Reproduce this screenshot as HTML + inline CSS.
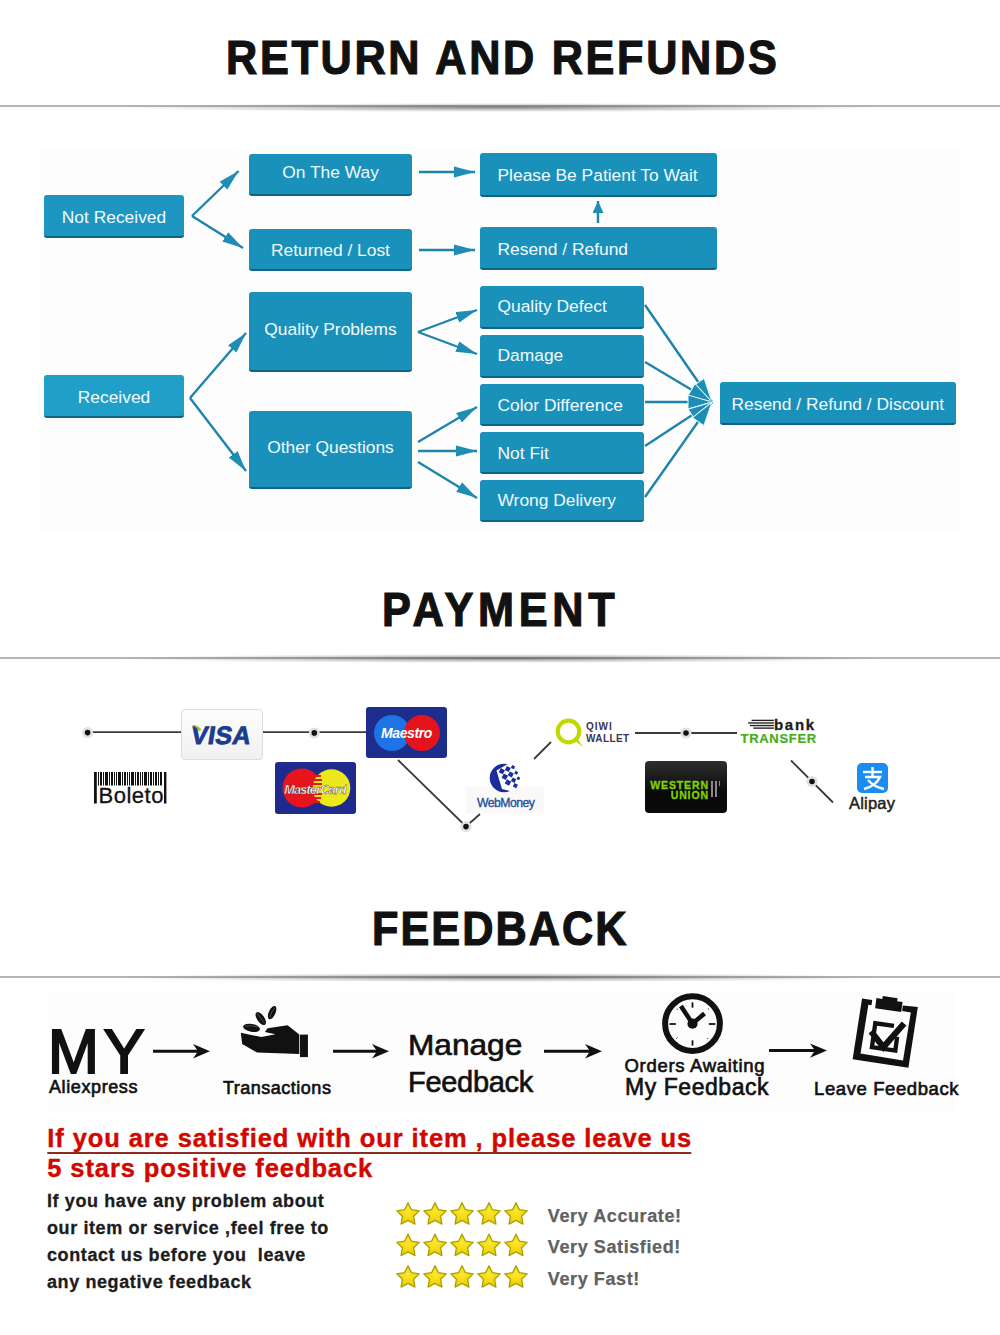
<!DOCTYPE html>
<html><head><meta charset="utf-8">
<style>
*{margin:0;padding:0;box-sizing:border-box}
html,body{width:1000px;height:1335px;background:#fff;overflow:hidden}
body{position:relative;font-family:"Liberation Sans",sans-serif}
.a{position:absolute}
.h{position:absolute;font-weight:bold;color:#111;font-size:46px;line-height:46px;white-space:nowrap}
.rule{position:absolute;left:0;width:1000px;height:2px;background:#b4b4b4}
.shadow{position:absolute;left:120px;width:760px;height:9px;background:radial-gradient(closest-side,rgba(70,70,70,.62),rgba(70,70,70,.25) 55%,rgba(70,70,70,0))}
.bx{position:absolute;background:#1a91bb;padding-top:3px;color:#f2fbff;font-size:17.4px;line-height:17px;border-radius:3px;border-bottom:2px solid #0f6482;white-space:nowrap;display:flex;align-items:center}
.c{justify-content:center}
.band{position:absolute;background:#fcfcfc}
</style></head><body>

<!-- RETURN AND REFUNDS -->
<div class="h" id="h1" style="left:226px;top:35px;font-size:48px;letter-spacing:3px;transform:scaleX(0.9);transform-origin:0 0;-webkit-text-stroke:1.2px #111">RETURN AND REFUNDS</div>
<div class="rule" style="top:105px"></div>
<div class="shadow" style="top:102.5px"></div>

<div class="band" style="left:40px;top:150px;width:920px;height:380px;background:#fdfdfd"></div>

<div class="bx c" style="left:44px;top:195px;width:140px;height:43px;background:#1d97c2">Not Received</div>
<div class="bx c" style="left:249px;top:153.5px;width:163px;height:42px;padding-top:0;padding-bottom:3px">On The Way</div>
<div class="bx c" style="left:249px;top:229px;width:163px;height:42px">Returned / Lost</div>
<div class="bx" style="left:480px;top:153px;width:237px;height:44px;padding-left:17.5px">Please Be Patient To Wait</div>
<div class="bx" style="left:480px;top:227px;width:237px;height:43px;padding-left:17.5px">Resend / Refund</div>

<div class="bx c" style="left:44px;top:375px;width:140px;height:43px;background:#20a0c8">Received</div>
<div class="bx c" style="left:249px;top:292px;width:163px;height:80px;padding-top:0;padding-bottom:4px">Quality Problems</div>
<div class="bx c" style="left:249px;top:411px;width:163px;height:78px;padding-top:0;padding-bottom:4px">Other Questions</div>
<div class="bx" style="left:480px;top:286px;width:164px;height:43px;padding-left:17.5px;padding-top:0">Quality Defect</div>
<div class="bx" style="left:480px;top:335px;width:164px;height:43px;padding-left:17.5px;padding-top:0;padding-bottom:1px">Damage</div>
<div class="bx" style="left:480px;top:384px;width:164px;height:42px;padding-left:17.5px;padding-top:2px">Color Difference</div>
<div class="bx" style="left:480px;top:432px;width:164px;height:42px;padding-left:17.5px;padding-top:2px">Not Fit</div>
<div class="bx" style="left:480px;top:480px;width:164px;height:42px;padding-left:17.5px;padding-top:1px">Wrong Delivery</div>
<div class="bx" style="left:720px;top:382px;width:236px;height:43px;padding-left:11.5px">Resend / Refund / Discount</div>

<svg class="a" style="left:0;top:0" width="1000" height="560" viewBox="0 0 1000 560">
<defs>
<marker id="ah" markerWidth="22" markerHeight="12" refX="21" refY="6" orient="auto" markerUnits="userSpaceOnUse">
<path d="M0,0.5 L21,6 L0,11.5 Z" fill="#1d8db5"/>
</marker>
<marker id="ah3" markerWidth="28" markerHeight="18" refX="25" refY="8" orient="auto" markerUnits="userSpaceOnUse">
<path d="M1,1 L25,8 L1,15 Z" fill="#1d8db5" stroke="#e8f8ff" stroke-width="1" stroke-linejoin="miter"/>
</marker>
<marker id="ah2" markerWidth="12" markerHeight="12" refX="12" refY="5.5" orient="auto" markerUnits="userSpaceOnUse">
<path d="M0,0 L12,5.5 L0,11 Z" fill="#1d8db5"/>
</marker>
</defs>
<g stroke="#1f84aa" stroke-width="2.4" fill="none" marker-end="url(#ah)">
<path d="M192,216 L238.6,171"/>
<path d="M192,216 L243,248"/>
<path d="M419,172 L475,172"/>
<path d="M419,250 L475,250"/>
<path d="M598,223 L598,201" marker-end="url(#ah2)"/>
<path d="M190,398 L246,333"/>
<path d="M190,398 L246,471"/>
<path d="M418,332 L477,310"/>
<path d="M418,332 L477,354"/>
<path d="M418,442 L477,407"/>
<path d="M418,451 L477,451"/>
<path d="M418,462 L477,498"/>
<path d="M645,305 L712,402" marker-end="url(#ah3)"/>
<path d="M645,362 L712,402" marker-end="url(#ah3)"/>
<path d="M645,402 L712,402" marker-end="url(#ah3)"/>
<path d="M645,446 L712,402" marker-end="url(#ah3)"/>
<path d="M645,497 L712,402" marker-end="url(#ah3)"/>
</g>
</svg>

<!-- PAYMENT -->
<div class="h" id="h2" style="left:382px;top:587px;font-size:48px;letter-spacing:5.3px;transform:scaleX(0.9);transform-origin:0 0;-webkit-text-stroke:1.2px #111">PAYMENT</div>
<div class="rule" style="top:657px"></div>
<div class="shadow" style="top:654px"></div>


<!-- payment lines -->
<svg class="a" style="left:0;top:680px" width="1000" height="170" viewBox="0 680 1000 170">
<g stroke="#3a3a3a" stroke-width="1.8" fill="none">
<path d="M88,732.2 L181,732.2"/>
<path d="M262,732.2 L366,732.2"/>
<path d="M398,760 L466,826.5 L480,814"/>
<path d="M534,759 L551,742"/>
<path d="M635,733 L737,733"/>
<path d="M791,760.5 L833,802.5"/>
</g>
<g>
<circle cx="87.6" cy="732.6" r="5.5" fill="#e0e0e0"/><circle cx="87.6" cy="732.6" r="2.8" fill="#111"/>
<circle cx="314.3" cy="732.9" r="5.5" fill="#e0e0e0"/><circle cx="314.3" cy="732.9" r="2.8" fill="#111"/>
<circle cx="466" cy="826.6" r="5.5" fill="#e0e0e0"/><circle cx="466" cy="826.6" r="2.8" fill="#111"/>
<circle cx="686" cy="733" r="5.5" fill="#e0e0e0"/><circle cx="686" cy="733" r="2.8" fill="#111"/>
<circle cx="812" cy="781.5" r="5.5" fill="#e0e0e0"/><circle cx="812" cy="781.5" r="2.8" fill="#111"/>
</g>
</svg>

<!-- VISA -->
<div class="a" style="left:181px;top:709px;width:82px;height:51px;border:1px solid #dcdcdc;border-radius:4px;background:linear-gradient(#fdfdfd,#f1f1f1)"></div>
<div class="a" id="visa" style="left:189px;top:719.5px;font-size:25px;line-height:30px;font-weight:bold;color:#1a3d8f;letter-spacing:0.4px;-webkit-text-stroke:0.9px #1a3d8f;transform:skewX(-9deg);transform-origin:0 100%">VISA</div>
<svg class="a" style="left:191px;top:724px" width="12" height="8" viewBox="0 0 12 8"><path d="M0.5,1.2 Q6,0 10.5,5.5 L8.3,7.2 Q5.5,2.5 0.5,1.2Z" fill="#9ccb1c"/></svg>

<!-- Boleto -->
<svg class="a" style="left:92px;top:771px" width="78" height="36" viewBox="0 0 78 36" preserveAspectRatio="none">
<g fill="#111">
<rect x="2" y="1" width="2.8" height="31.5"/><rect x="72" y="1" width="2.4" height="31.5"/>
<rect x="6" y="1" width="1" height="13.5"/><rect x="8" y="1" width="2" height="13.5"/><rect x="11" y="1" width="1" height="13.5"/><rect x="13" y="1" width="3" height="13.5"/><rect x="17" y="1" width="1" height="13.5"/><rect x="19" y="1" width="2" height="13.5"/><rect x="22" y="1" width="1" height="13.5"/><rect x="24" y="1" width="1" height="13.5"/><rect x="26" y="1" width="3" height="13.5"/><rect x="30" y="1" width="1" height="13.5"/><rect x="32" y="1" width="2" height="13.5"/><rect x="35" y="1" width="1" height="13.5"/><rect x="37" y="1" width="1" height="13.5"/><rect x="39" y="1" width="3" height="13.5"/><rect x="43" y="1" width="1" height="13.5"/><rect x="45" y="1" width="2" height="13.5"/><rect x="48" y="1" width="1" height="13.5"/><rect x="50" y="1" width="1" height="13.5"/><rect x="52" y="1" width="3" height="13.5"/><rect x="56" y="1" width="1" height="13.5"/><rect x="58" y="1" width="2" height="13.5"/><rect x="61" y="1" width="1" height="13.5"/><rect x="63" y="1" width="2" height="13.5"/><rect x="66" y="1" width="1" height="13.5"/><rect x="68" y="1" width="2" height="13.5"/>
</g>
</svg>
<div class="a" style="left:98.5px;top:784px;font-size:22px;line-height:24px;color:#111;letter-spacing:0.5px;-webkit-text-stroke:0.3px #111">Boleto</div>

<!-- MasterCard -->
<div class="a" style="left:275px;top:762px;width:81px;height:51.5px;border-radius:3px;background:#1f2a8f;overflow:hidden">
<svg width="81" height="52" viewBox="0 0 81 52">
<circle cx="27" cy="26" r="19.5" fill="#e8141c"/>
<circle cx="56.5" cy="26" r="18.8" fill="#ebe81c"/>
<g fill="#e8141c"><rect x="38" y="13" width="8" height="2"/><rect x="38" y="17" width="9" height="2"/><rect x="38" y="21" width="9" height="2"/><rect x="38" y="31" width="9" height="2"/><rect x="38" y="35" width="8" height="2"/><rect x="39" y="39" width="6" height="2"/></g>
<text x="40" y="31.5" text-anchor="middle" font-family="Liberation Sans" font-weight="bold" font-style="italic" font-size="12.8" fill="#fff" letter-spacing="-0.9" stroke="#333" stroke-width="0.35">MasterCard</text>
</svg></div>

<!-- Maestro -->
<div class="a" style="left:366px;top:707px;width:81px;height:51px;border-radius:3px;background:#1c2d8c;overflow:hidden">
<svg width="81" height="51" viewBox="0 0 81 51">
<circle cx="26" cy="26" r="18" fill="#1e74e4"/>
<circle cx="56" cy="26" r="18" fill="#e3141b"/>
<text x="40.5" y="31" text-anchor="middle" font-family="Liberation Sans" font-weight="bold" font-style="italic" font-size="14" fill="#fff" letter-spacing="-0.4">Maestro</text>
</svg></div>

<!-- WebMoney -->
<div class="a" style="left:466px;top:787px;width:78px;height:26px;background:#faf8f8"></div>
<svg class="a" style="left:488px;top:762px" width="36" height="32" viewBox="0 0 36 32">
<circle cx="16" cy="16" r="14.3" fill="#1b2d9e"/>
<path d="M8.5,8.5 L21.5,1 L34,15 L26,30 L14,27 Z" fill="#fff"/>
<g fill="#1b2d9e">
<rect x="-2.3" y="-2.3" width="4.6" height="4.6" transform="translate(13.8 9.2) rotate(28)"/>
<rect x="-2.2" y="-2.2" width="4.4" height="4.4" transform="translate(19.8 7) rotate(28)"/>
<rect x="-1.6" y="-1.6" width="3.2" height="3.2" transform="translate(25 5.2) rotate(28)"/>
<rect x="-2.4" y="-2.4" width="4.8" height="4.8" transform="translate(16.8 14.8) rotate(28)"/>
<rect x="-2.2" y="-2.2" width="4.4" height="4.4" transform="translate(22.8 12.4) rotate(28)"/>
<rect x="-1.5" y="-1.5" width="3" height="3" transform="translate(28.2 10.8) rotate(28)"/>
<rect x="-2.4" y="-2.4" width="4.8" height="4.8" transform="translate(20 20.6) rotate(28)"/>
<rect x="-2" y="-2" width="4" height="4" transform="translate(25.6 18.2) rotate(28)"/>
<rect x="-1.4" y="-1.4" width="2.8" height="2.8" transform="translate(30.4 16.4) rotate(28)"/>
<rect x="-1.9" y="-1.9" width="3.8" height="3.8" transform="translate(27.4 23.6) rotate(28)"/>
</g>
</svg>
<div class="a" style="left:477px;top:796px;font-size:12.2px;line-height:14px;color:#24509c;letter-spacing:-0.5px;-webkit-text-stroke:0.35px #24509c">WebMoney</div>

<!-- QIWI -->
<svg class="a" style="left:553px;top:717px" width="32" height="32" viewBox="0 0 32 32">
<circle cx="15.5" cy="14.5" r="10.8" fill="none" stroke="#c0d800" stroke-width="4.2"/>
<path d="M21,23 L30,30 L24,21Z" fill="#c0d800"/>
</svg>
<div class="a" style="left:586px;top:721px;font-size:10px;line-height:12px;font-weight:bold;color:#3a3458;letter-spacing:1px">QIWI<br><span style="letter-spacing:0.4px">WALLET</span></div>

<!-- bank transfer -->
<svg class="a" style="left:748px;top:718px" width="26" height="12" viewBox="0 0 30 14">
<g fill="#222"><rect x="4" y="2" width="26" height="1.6"/><rect x="0" y="5" width="30" height="1.6"/><rect x="2" y="8" width="28" height="1.6"/><rect x="6" y="11" width="24" height="1.6"/></g>
</svg>
<div class="a" style="left:774px;top:716.5px;font-size:15px;line-height:16px;font-weight:bold;color:#1a1a1a;letter-spacing:1.7px;-webkit-text-stroke:0.3px #1a1a1a">bank</div>
<div class="a" id="transfer" style="left:740.5px;top:732px;font-size:13px;line-height:14px;font-weight:bold;color:#4aae1c;letter-spacing:0.7px;-webkit-text-stroke:0.2px #3f9a18">TRANSFER</div>

<!-- Western Union -->
<div class="a" style="left:645px;top:761px;width:82px;height:52px;border-radius:4px;background:linear-gradient(#2e2e2e,#0a0a0a 60%)"></div>
<div class="a" style="left:650px;top:779.5px;width:59px;font-size:10.5px;line-height:10.2px;font-weight:bold;color:#80d200;text-align:right;letter-spacing:0.9px;margin-right:-0.9px;-webkit-text-stroke:0.3px #80d200">WESTERN<br>UNION</div>
<div class="a" style="left:711px;top:781px;width:1.5px;height:16px;background:#8a8a8a"></div>
<div class="a" style="left:715px;top:781px;width:1.5px;height:16px;background:#8a8a8a"></div>
<div class="a" style="left:719px;top:781px;width:1px;height:5px;background:#8a8a8a"></div>

<!-- Alipay -->
<div class="a" style="left:857px;top:763px;width:31px;height:30px;border-radius:5px;background:#1b8cf0">
<svg width="31" height="30" viewBox="0 0 31 30"><g fill="none" stroke="#fff" stroke-width="2.4"><path d="M6,9 L25,9"/><path d="M15.5,4 L15.5,14"/><path d="M8,14 L23,14 Q19,23 7,26"/><path d="M11,17 Q17,24 27,26"/></g></svg>
</div>
<div class="a" style="left:849px;top:794px;font-size:16.5px;line-height:19px;color:#222;letter-spacing:0.2px;-webkit-text-stroke:0.5px #222">Alipay</div>

<!-- FEEDBACK -->
<div class="h" id="h3" style="left:372px;top:906px;font-size:48px;letter-spacing:2.3px;transform:scaleX(0.9);transform-origin:0 0;-webkit-text-stroke:1.2px #111">FEEDBACK</div>
<div class="rule" style="top:976px"></div>
<div class="shadow" style="top:973px"></div>


<div class="band" style="left:48px;top:992px;width:908px;height:120px;background:#fdfdfd"></div>

<div class="a" id="my" style="-webkit-text-stroke:2.2px #111;left:48px;top:1020px;font-size:63px;line-height:63px;color:#111;letter-spacing:5px;transform:scaleX(0.97);transform-origin:0 0">MY</div>
<div class="a" id="ali" style="-webkit-text-stroke:0.65px #111;left:49px;top:1077px;font-size:18px;line-height:20px;color:#111;letter-spacing:0.6px">Aliexpress</div>

<svg class="a" style="left:0;top:1030px" width="1000" height="45" viewBox="0 1030 1000 45">
<g stroke="#111" stroke-width="3" fill="none">
<path d="M153,1051.2 L200,1051.2"/>
<path d="M333,1051.2 L380,1051.2"/>
<path d="M544,1051.2 L592,1051.2"/>
<path d="M769,1050.5 L818,1050.5"/>
</g>
<g fill="#111">
<path d="M193,1044 L210,1051.2 L193,1058.4 L198,1051.2Z"/>
<path d="M372,1044 L389,1051.2 L372,1058.4 L377,1051.2Z"/>
<path d="M585,1044 L602,1051.2 L585,1058.4 L590,1051.2Z"/>
<path d="M810,1043.5 L827,1050.5 L810,1057.7 L815,1050.5Z"/>
</g>
</svg>

<!-- hand -->
<svg class="a" style="left:230px;top:995px" width="90" height="70" viewBox="0 0 1000 778">
<g fill="#111">
<path d="M120,420 L350,468 L505,436 L388,412 L418,370 L640,335 L770,440 L770,655 L300,640 L135,545 Z"/>
<rect x="778" y="440" width="88" height="250"/>
<ellipse cx="240" cy="365" rx="95" ry="44" transform="rotate(10 240 365)"/>
<ellipse cx="342" cy="262" rx="84" ry="40" transform="rotate(55 342 262)"/>
<ellipse cx="468" cy="196" rx="80" ry="37" transform="rotate(-65 468 196)"/>
</g>
<g stroke="#666" stroke-width="8" fill="none">
<path d="M170,345 Q240,335 310,355"/>
<path d="M300,200 Q340,260 385,315"/>
<path d="M440,250 Q460,180 500,140"/>
</g>
</svg>
<div class="a" id="trans" style="-webkit-text-stroke:0.65px #111;left:223px;top:1078px;font-size:18px;line-height:20px;color:#111;letter-spacing:0.5px">Transactions</div>

<div class="a" id="manage" style="-webkit-text-stroke:0.65px #111;left:408px;top:1027px;font-size:29px;line-height:36.5px;color:#111;letter-spacing:-0.3px"><span style="display:inline-block;transform:scaleX(1.09);transform-origin:0 0;letter-spacing:0">Manage</span><br>Feedback</div>

<!-- clock -->
<svg class="a" style="left:655px;top:985px" width="75" height="75" viewBox="0 0 1000 1000">
<circle cx="500" cy="515" r="365" fill="none" stroke="#111" stroke-width="80"/>
<circle cx="500" cy="515" r="68" fill="#111"/>
<g stroke="#111" stroke-width="60" stroke-linecap="butt"><path d="M500,515 L345,280"/><path d="M500,515 L660,380"/></g>
<g stroke="#111" stroke-width="24"><path d="M500,232 L500,302"/><path d="M718,520 L805,520"/><path d="M500,738 L500,808"/><path d="M193,520 L278,520"/></g>
<g stroke="#111" stroke-width="12"><path d="M295,315 L305,330"/><path d="M705,325 L720,315"/><path d="M285,715 L300,700"/><path d="M695,705 L710,720"/></g>
</svg>
<div class="a" id="orders" style="-webkit-text-stroke:0.65px #111;left:624.5px;top:1056px;font-size:18.5px;line-height:20px;color:#111;letter-spacing:0.7px">Orders Awaiting</div>
<div class="a" id="myfb" style="-webkit-text-stroke:0.65px #111;left:625px;top:1074px;font-size:23px;line-height:26px;color:#111;letter-spacing:0.55px">My Feedback</div>

<!-- clipboard -->
<svg class="a" style="left:840px;top:985px" width="90" height="90" viewBox="0 0 1000 1000">
<path fill="#111" fill-rule="evenodd" d="M245,150 L358,167 L350,225 L315,220 L228,760 L700,838 L787,305 L690,290 L698,228 L865,245 L760,920 L140,825 Z"/>
<path fill="#111" d="M405,145 L470,155 L475,122 L640,148 L635,180 L695,190 L680,300 L390,258 Z"/>
<path fill="none" stroke="#111" stroke-width="48" stroke-linejoin="miter" d="M600,455 L392,425 L355,690 L615,728 L635,575"/>
<path fill="none" stroke="#111" stroke-width="68" stroke-linejoin="miter" stroke-miterlimit="6" d="M345,515 L482,690 L712,428"/>
</svg>
<div class="a" id="leave" style="-webkit-text-stroke:0.65px #111;left:814px;top:1079px;font-size:18.5px;line-height:20px;color:#111;letter-spacing:0.6px">Leave Feedback</div>

<!-- red text -->
<div class="a" id="red" style="left:47.3px;top:1123px;-webkit-text-stroke:0.4px #d00800;font-size:25.5px;line-height:30px;font-weight:bold;color:#d00800;letter-spacing:0.9px"><span style="text-decoration:underline;text-decoration-color:#8e2a1e;text-decoration-thickness:1.6px;text-underline-offset:4.5px;text-decoration-skip-ink:none">If you are satisfied with our item , please leave u<span style="letter-spacing:0">s</span></span><br>5 stars positive feedback</div>

<div class="a" id="blk" style="left:47px;top:1188.2px;-webkit-text-stroke:0.3px #1c1c1c;font-size:18px;line-height:27px;font-weight:bold;color:#1c1c1c;letter-spacing:0.6px;white-space:pre">If you have any problem about
our item or service ,feel free to
contact us before you  leave
any negative feedback</div>

<!-- stars -->
<svg class="a" style="left:392px;top:1197px" width="140" height="96" viewBox="0 0 140 96">
<defs>
<radialGradient id="sg" cx="50%" cy="40%" r="60%"><stop offset="0" stop-color="#fbe830"/><stop offset="1" stop-color="#efcc00"/></radialGradient>
<path id="st" d="M0.00,-10.80 L3.47,-3.77 L11.22,-2.65 L5.61,2.82 L6.94,10.55 L0.00,6.90 L-6.94,10.55 L-5.61,2.82 L-11.22,-2.65 L-3.47,-3.77Z" fill="url(#sg)" stroke="#a9a000" stroke-width="1.3" stroke-linejoin="round"/>
</defs>
<g id="row">
<use href="#st" x="16" y="16.5"/><use href="#st" x="43" y="16.5"/><use href="#st" x="70" y="16.5"/><use href="#st" x="97" y="16.5"/><use href="#st" x="124" y="16.5"/>
</g>
<use href="#row" y="31.5"/>
<use href="#row" y="63"/>
</svg>
<div class="a" id="very" style="left:547.8px;top:1200.8px;font-size:18px;line-height:31.6px;font-weight:bold;color:#616161;letter-spacing:0.6px;-webkit-text-stroke:0.25px #616161">Very Accurate!<br>Very Satisfied!<br>Very Fast!</div>

</body></html>
